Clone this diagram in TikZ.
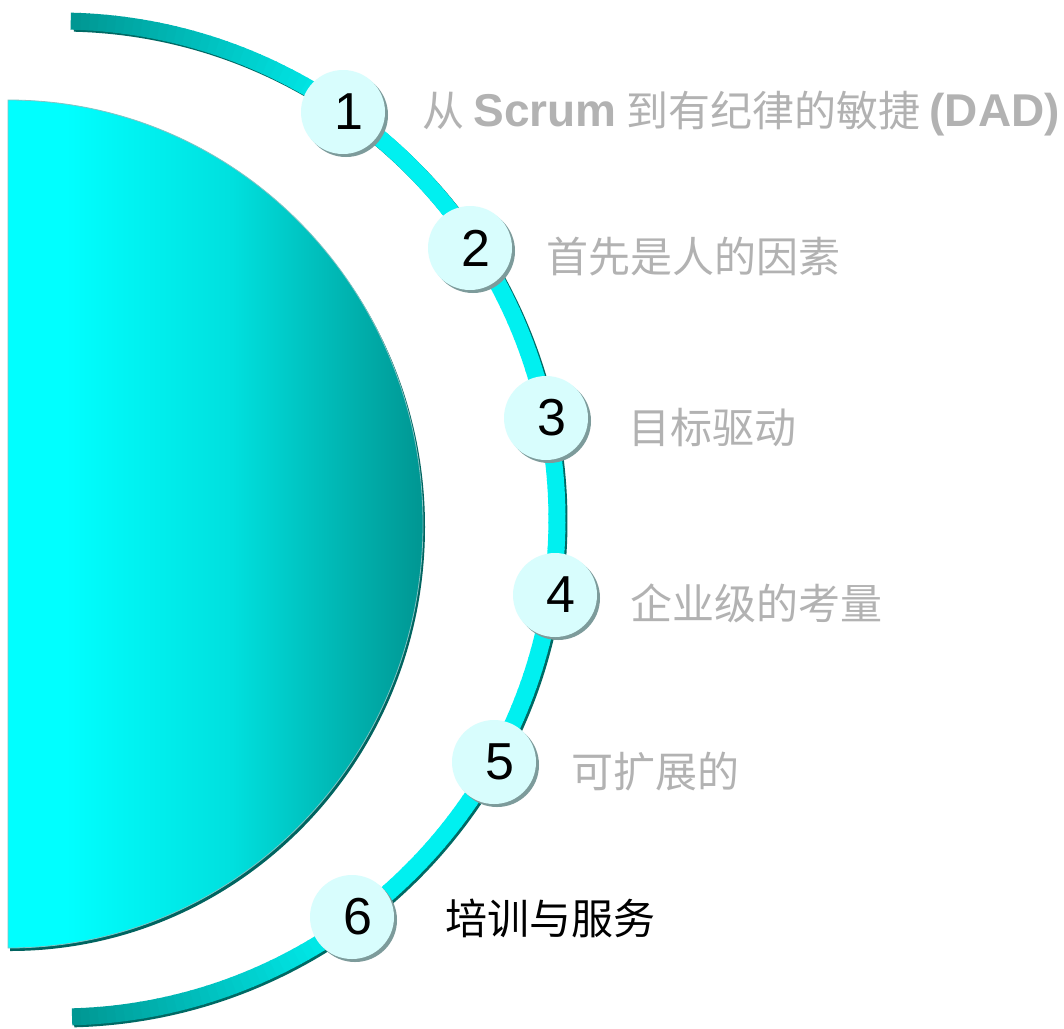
\documentclass[tikz,border=0pt]{standalone}
\usepackage{fontspec}
\setmainfont{Liberation Sans}
\newfontfamily\cjk{Noto Sans CJK SC}
\usetikzlibrary{calc}
\definecolor{diskL}{RGB}{0,255,255}
\definecolor{diskM}{RGB}{0,224,222}
\definecolor{diskR}{RGB}{0,150,146}
\definecolor{diskShadow}{RGB}{0,100,96}
\definecolor{diskEdge}{RGB}{130,195,195}
\definecolor{bandHi}{RGB}{0,240,240}
\definecolor{bandLo}{RGB}{0,150,146}
\definecolor{bandShadow}{RGB}{0,105,100}
\definecolor{ballFill}{RGB}{216,253,253}
\definecolor{ballShadow}{RGB}{125,155,155}
\definecolor{labelGray}{RGB}{178,178,178}
\pgfdeclarehorizontalshading{diskshade}{100bp}{color(0bp)=(diskL); color(32bp)=(diskL); color(52bp)=(diskM); color(75bp)=(diskR); color(100bp)=(diskR)}
\newcommand{\latinpart}[1]{{\rmfamily\bfseries\fontsize{46}{48}\selectfont #1}}
\begin{document}
\begin{tikzpicture}[x=1pt,y=-1pt,
  ball/.style={circle, fill=ballFill, minimum size=84pt, inner sep=0pt,
    font=\fontsize{52}{52}\selectfont, execute at begin node=\hspace*{11pt}},
  ballshade/.style={fill=ballShadow},
  lab/.style={anchor=base west, inner sep=0pt, text=labelGray,
    font=\fontsize{42}{48}\selectfont\cjk},
  labdark/.style={lab, text=black}]
\fill[white] (0,0) rectangle (1064,1028);
\useasboundingbox (0,0) rectangle (1064,1028);
% half disk
\coordinate (dtop) at (8,100);
\fill[diskShadow] ($(dtop)+(2,3)$) arc[start angle=90,end angle=-90,x radius=415pt,y radius=424pt] -- cycle;
\shade[shading=diskshade, draw=diskEdge, line width=0.8pt] (dtop) arc[start angle=90,end angle=-90,x radius=415pt,y radius=424pt] -- cycle;
% band
\coordinate (ac) at (59,519);
\draw[bandShadow, line width=17pt] ($(ac)+(2,2)+(-88.5:498pt)$) arc[start angle=-88.5,end angle=88.5,radius=498pt];
\foreach \a in {-88.5,-87.5,...,87.5}{
  \pgfmathsetmacro\bmix{min(100,(88.5-abs(\a+0.5))/33*100)}
  \colorlet{bandseg}{bandHi!\bmix!bandLo}
  \draw[bandseg, line width=17pt] ($(ac)+(\a:498pt)$) arc[start angle=\a, end angle=\a+1.15, radius=498pt];
}
% balls
\fill[ballshade] (346,115) circle[radius=42pt];
\node[ball] (b1) at (343,112) {1};
\fill[ballshade] (473,251) circle[radius=42pt];
\node[ball] (b2) at (470,248) {2};
\fill[ballshade] (549,421) circle[radius=42pt];
\node[ball] (b3) at (546,418) {3};
\fill[ballshade] (558,598) circle[radius=42pt];
\node[ball] (b4) at (555,595) {4};
\fill[ballshade] (497,765) circle[radius=42pt];
\node[ball] (b5) at (494,762) {5};
\fill[ballshade] (355,920) circle[radius=42pt];
\node[ball] (b6) at (352,917) {6};
% labels
\node[lab] (l1) at (422,126) {从 \latinpart{Scrum} 到有纪律的敏捷 \latinpart{(DAD)}};
\node[lab] (l2) at (546,272) {首先是人的因素};
\node[lab] (l3) at (628,443) {目标驱动};
\node[lab] (l4) at (630,619) {企业级的考量};
\node[lab] (l5) at (571,787) {可扩展的};
\node[labdark] (l6) at (445,934) {培训与服务};
\end{tikzpicture}
\end{document}
